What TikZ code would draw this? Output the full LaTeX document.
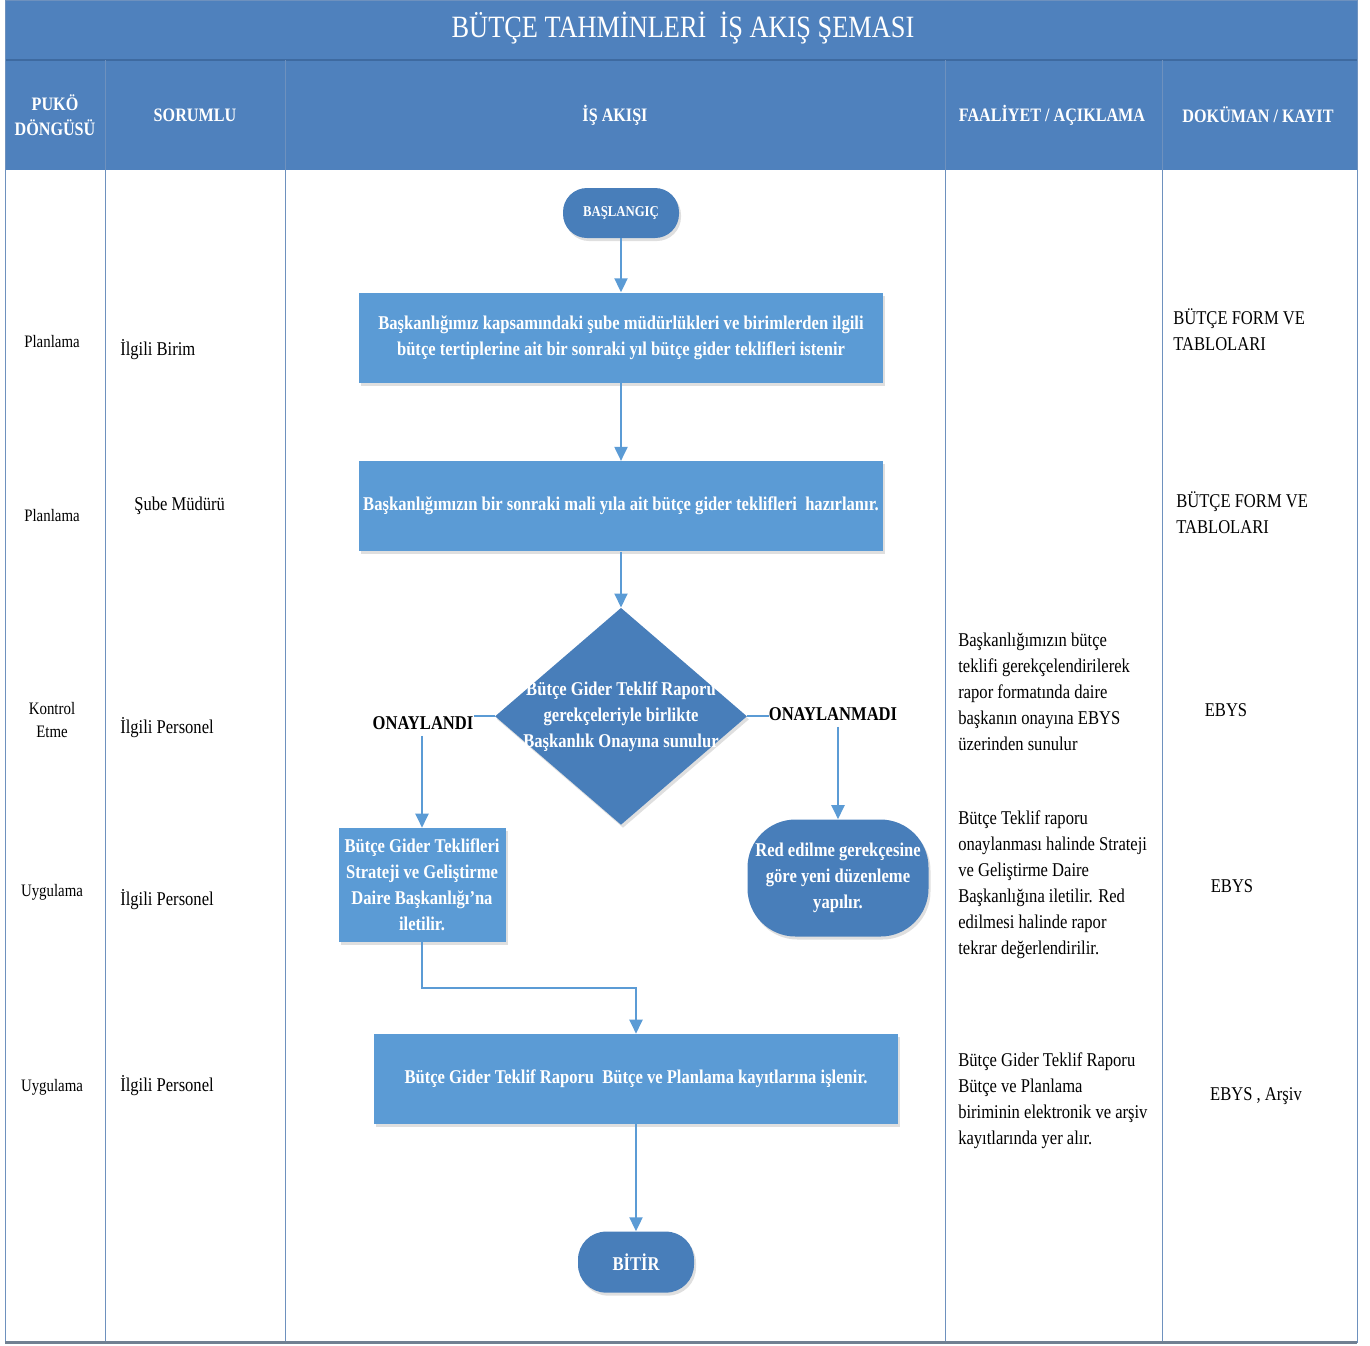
\documentclass[tikz,border=0pt]{standalone}
\usepackage{fontspec}
\setmainfont{Liberation Serif}[FakeStretch=0.85]
\usepackage{tikz}
\usetikzlibrary{shapes, positioning, arrows.meta, shadows}

\definecolor{bandblue}{RGB}{79,129,189}
\definecolor{bandedge}{RGB}{62,106,160}
\definecolor{boxblue}{RGB}{91,155,213}
\definecolor{nodeblue}{RGB}{72,126,186}
\definecolor{gridblue}{RGB}{110,145,190}

\begin{document}
\begin{tikzpicture}[x=1pt, y=-1pt, semithick, node distance = 54pt]
\tikzstyle{task}=[rectangle, fill=boxblue, text=white, align=center, inner sep=2pt,
  font=\bfseries\fontsize{19.5}{26}\selectfont, minimum width=524pt, minimum height=90pt,
  drop shadow={shadow xshift=2pt, shadow yshift=-3pt, opacity=0.25}]
\tikzstyle{term}=[task, fill=nodeblue, minimum width=116pt]
\tikzstyle{dec}=[diamond, fill=nodeblue, inner sep=0pt, aspect=1.16,
  minimum width=252pt, minimum height=217pt,
  drop shadow={shadow xshift=2pt, shadow yshift=-3pt, opacity=0.25}]
\tikzstyle{dectext}=[text=white, align=center, inner sep=0pt, font=\bfseries\fontsize{19.5}{26}\selectfont]
\tikzstyle{branch}=[inner sep=0pt, font=\bfseries\fontsize{19.5}{22}\selectfont]
\tikzstyle{flow}=[draw=boxblue, line width=2pt, -{Triangle[width=13pt,length=14pt]}]
\tikzstyle{cell}=[inner sep=0pt, anchor=west, align=left, font=\fontsize{19.5}{26}\selectfont]
\tikzstyle{pcell}=[inner sep=0pt, align=center, font=\fontsize{17.5}{23}\selectfont]
\tikzstyle{headtext}=[text=white, align=center, font=\bfseries\fontsize{19}{25}\selectfont]
\tikzstyle{gridline}=[draw=gridblue, line width=1pt]

\useasboundingbox (0,0) rectangle (1370,1345);

% table frame
\fill[bandblue] (5,0) rectangle (1357,170);
\draw[bandedge, line width=1.5pt] (5,60) -- (1357,60);
\foreach \x in {105,285,945,1162}
  \draw[gridline] (\x,60) -- (\x,1342);
\draw[gridline] (5,0) rectangle (1357,1342);
\draw[draw=gray!70!bandblue, line width=3pt] (5,1342) -- (1357,1342);

\node[text=white, font=\fontsize{31}{34}\selectfont]   (title) at (683,28)   {BÜTÇE TAHMİNLERİ\ \ İŞ AKIŞ ŞEMASI};
\node[headtext]    (h1) at (55,115)    {PUKÖ\\DÖNGÜSÜ};
\node[headtext]    (h2) at (195,115)   {SORUMLU};
\node[headtext]    (h3) at (615,115)   {İŞ AKIŞI};
\node[headtext]    (h4) at (1052,115)  {FAALİYET / AÇIKLAMA};
\node[headtext]    (h5) at (1258,115)  {DOKÜMAN / KAYIT};

% flow
\node[term, minimum height=50pt, rounded corners=24pt, font=\bfseries\fontsize{15}{18}\selectfont]
                   (start) at (621,213)   {BAŞLANGIÇ};
\node[task]        (ask)[below=54pt of start]   {Başkanlığımız kapsamındaki şube müdürlükleri ve birimlerden ilgili\\bütçe tertiplerine ait bir sonraki yıl bütçe gider teklifleri istenir};
\node[task]        (prep)[below=78pt of ask]    {Başkanlığımızın bir sonraki mali yıla ait bütçe gider teklifleri\ \ hazırlanır.};
\node[dec]         (check)[below=56pt of prep]  {};
\node[dectext]     (checktext) at (check.center) {Bütçe Gider Teklif Raporu\\gerekçeleriyle birlikte\\Başkanlık Onayına sunulur};
\node[branch]      (yes) at (423,723)   {ONAYLANDI};
\node[branch]      (no) at (833,714)    {ONAYLANMADI};
\node[task, minimum width=167pt, minimum height=114pt]
                   (send) at (422,885)  {Bütçe Gider Teklifleri\\Strateji ve Geliştirme\\Daire Başkanlığı'na\\iletilir.};
\node[term, minimum width=181pt, minimum height=117pt, rounded corners=48pt]
                   (redo) at (838,878)  {Red edilme gerekçesine\\göre yeni düzenleme\\yapılır.};
\node[task]        (rec) at (636,1079)  {Bütçe Gider Teklif Raporu\ \ Bütçe ve Planlama kayıtlarına işlenir.};
\node[term, minimum height=61pt, rounded corners=28pt]
                   (stop)[below=107pt of rec]   {BİTİR};
\coordinate        (turn) at (530,988);

\path
(start) edge[flow]     (ask)
(ask) edge[flow]       (prep)
(prep) edge[flow]      (check)
([yshift=-6pt]send.north |- yes.south) edge[flow]   (send.north)
([yshift=-6pt]redo.north |- no.south) edge[flow]    (redo.north)
(rec) edge[flow]       (stop);
\draw[boxblue, line width=2pt] (check.west) -- (check.west -| yes.east);
\draw[boxblue, line width=2pt] (check.east) -- (check.east -| no.west);
\draw[flow] (send.south) |- (turn) -| (rec.north);

% PUKÖ column
\node[pcell]    (p1) at (52,342)    {Planlama};
\node[pcell]    (p2) at (52,516)    {Planlama};
\node[pcell]    (p3) at (52,720)    {Kontrol\\Etme};
\node[pcell]    (p4) at (52,892)    {Uygulama};
\node[pcell]    (p5) at (52,1087)   {Uygulama};

% SORUMLU column
\node[cell]     (s1) at (120,350)   {İlgili Birim};
\node[cell]     (s2) at (134,506)   {Şube Müdürü};
\node[cell]     (s3) at (120,728)   {İlgili Personel};
\node[cell]     (s4) at (120,900)   {İlgili Personel};
\node[cell]     (s5) at (120,1086)  {İlgili Personel};

% FAALIYET column
\node[cell]     (a1) at (958,692)   {Başkanlığımızın bütçe\\teklifi gerekçelendirilerek\\rapor formatında daire\\başkanın onayına EBYS\\üzerinden sunulur};
\node[cell]     (a2) at (958,885)   {Bütçe Teklif raporu\\onaylanması halinde Strateji\\ve Geliştirme Daire\\Başkanlığına iletilir. Red\\edilmesi halinde rapor\\tekrar değerlendirilir.};
\node[cell]     (a3) at (958,1101)  {Bütçe Gider Teklif Raporu\\Bütçe ve Planlama\\biriminin elektronik ve arşiv\\kayıtlarında yer alır.};

% DOKUMAN column
\node[cell]     (d1) at (1173,330)  {BÜTÇE FORM VE\\TABLOLARI};
\node[cell]     (d2) at (1176,513)  {BÜTÇE FORM VE\\TABLOLARI};
\node[cell, anchor=center]   (d3) at (1226,710)   {EBYS};
\node[cell, anchor=center]   (d4) at (1232,886)   {EBYS};
\node[cell, anchor=center]   (d5) at (1256,1096)  {EBYS , Arşiv};

\end{tikzpicture}
\end{document}
